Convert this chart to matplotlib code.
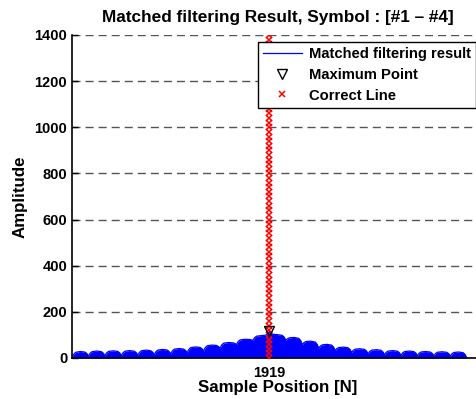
import numpy as np
import matplotlib
matplotlib.use("Agg")
import matplotlib.pyplot as plt

plt.rcParams['font.family'] = ['Liberation Sans', 'DejaVu Sans']
plt.rcParams['font.weight'] = 'bold'

# matched filter output: 24 symbol-length humps of 160 samples each
symbol_len = 160
hump_peaks = [28, 30, 31, 32, 34, 37, 41, 48, 56, 67, 81, 97,
              101, 89, 73, 59, 47, 40, 36, 32, 30, 28, 27, 26]
hump_troughs = [0, 8, 9, 10, 12, 14, 17, 22, 30, 42, 58, 76, 115,
                76, 58, 42, 32, 24, 18, 14, 11, 10, 9, 8, 0]
# shape of one hump (offset in samples, fraction of rise to the peak)
hump_offsets = [0, 15, 35, 80, 125, 145, 160]
hump_rise = [0.0, 0.55, 0.88, 1.0, 0.88, 0.55, 0.0]

max_pos = 1919
max_amp = 115
correct_pos = 1919
correct_y = np.arange(0, 1401, 20)

yticks = [0, 200, 400, 600, 800, 1000, 1200, 1400]

# build the outline of the filtering result from the hump values
pos, amp = [], []
for k, peak in enumerate(hump_peaks):
    left, right = hump_troughs[k], hump_troughs[k + 1]
    for off, r in zip(hump_offsets, hump_rise):
        base = left if off <= 80 else right
        pos.append(k * symbol_len + off)
        amp.append(base + r * (peak - base))
pos = np.array(pos)
amp = np.array(amp)

fig = plt.figure(figsize=(4.77, 3.99), dpi=100)
ax = fig.add_axes([0.151, 0.1028, 0.862, 0.8095])

ax.fill_between(pos, 0, amp, color='blue', lw=0)
ax.plot(pos, amp, color='blue', lw=0.9, label='Matched filtering result')
ax.plot([max_pos], [max_amp], 'v', mfc='none', mec='black', ms=7, mew=1,
        label='Maximum Point', zorder=5)
ax.plot(np.full(len(correct_y), correct_pos), correct_y, 'x', color='red',
        ms=4.5, mew=1.1, label='Correct Line', zorder=4)

ax.set_xlim(0, 4000)
ax.set_ylim(0, 1400)
ax.set_xticks([max_pos])
ax.set_yticks(yticks)
ax.tick_params(direction='in', length=4, labelsize=10.5, width=1)
ax.tick_params(axis='x', pad=6)
ax.yaxis.grid(True, linestyle=(0, (5.8, 3.6)), color='#555555', lw=1)
ax.set_axisbelow(True)
for s in ['top', 'right']:
    ax.spines[s].set_visible(False)
for s in ['left', 'bottom']:
    ax.spines[s].set_linewidth(1.2)

ax.set_title('Matched filtering Result, Symbol : [#1 \u2013 #4]',
             fontsize=12.4, fontweight='bold', pad=9)
ax.set_xlabel('Sample Position [N]', fontsize=12.2, fontweight='bold', labelpad=0)
ax.set_ylabel('Amplitude', fontsize=12.2, fontweight='bold', labelpad=5)

leg = ax.legend(loc='upper left', bbox_to_anchor=(0.4526, 0.978),
                fontsize=10.6, fancybox=False, framealpha=1, edgecolor='black',
                handlelength=2.6, handletextpad=0.5, borderaxespad=0,
                labelspacing=0.45, borderpad=0.35)
leg.get_frame().set_linewidth(1)

fig.savefig('out.png', dpi=100)
